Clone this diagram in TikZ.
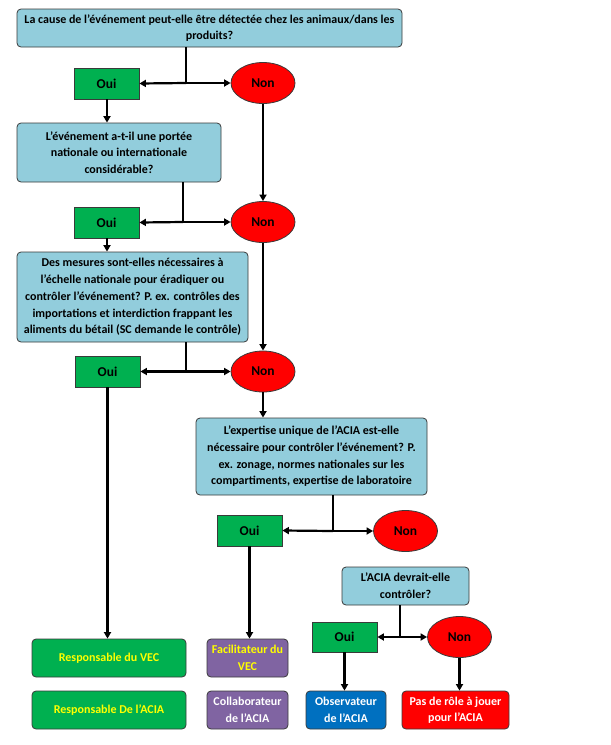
\documentclass[tikz,border=0pt]{standalone}
\usepackage{fontspec}
\setmainfont{Carlito}
\usetikzlibrary{arrows.meta,shapes.geometric}
\definecolor{qblue}{HTML}{92CDDC}
\definecolor{ogreen}{HTML}{00B050}
\definecolor{nred}{HTML}{FF0000}
\definecolor{rpurple}{HTML}{8064A2}
\definecolor{rblue}{HTML}{0070C0}
\definecolor{ryellow}{HTML}{FFFF00}
\definecolor{edgegray}{HTML}{3A3A3A}
\tikzset{
  qfont/.style={font=\bfseries\fontsize{12}{16.7}\selectfont},
  qbox/.style={qfont, draw=edgegray, line width=0.8pt, fill=qblue, rounded corners=4pt, align=center, inner sep=0pt},
  ouibox/.style={font=\bfseries\fontsize{13.5}{16}\selectfont, draw=edgegray, line width=0.8pt, fill=ogreen, minimum width=65pt, minimum height=31pt, inner sep=0pt},
  nonell/.style={font=\bfseries\fontsize{13.5}{16}\selectfont, draw=edgegray, line width=0.8pt, fill=nred, ellipse, minimum width=64pt, minimum height=41pt, inner sep=0pt},
  rbox/.style={font=\bfseries\fontsize{12}{16.5}\selectfont, draw=edgegray, line width=0.8pt, rounded corners=4pt, align=center, inner sep=0pt, minimum height=38pt},
  conn/.style={line width=2.2pt, draw=black},
  arr/.style={conn, -{Triangle[length=6.5pt,width=7pt]}}
}
\begin{document}
\begin{tikzpicture}[x=1pt,y=-1pt]
\useasboundingbox (0,0) rectangle (611,745);
% questions
\node[qbox, minimum width=385pt, minimum height=38pt] (q1) at (209.5,28) {La cause de l’événement peut-elle être détectée chez les animaux/dans les\\produits?};
\node[qbox, minimum width=204pt, minimum height=59pt] (q2) at (119,152.5) {L’événement a-t-il une portée\\nationale ou internationale\\considérable?};
\node[qbox, minimum width=231pt, minimum height=90pt] (q3) at (132.5,297) {Des mesures sont-elles nécessaires à\\l’échelle nationale pour éradiquer ou\\contrôler l’événement? P. ex. contrôles des\\importations et interdiction frappant les\\aliments du bétail (SC demande le contrôle)};
\node[qbox, minimum width=231pt, minimum height=77pt] (q4) at (311.5,456.5) {L’expertise unique de l’ACIA est-elle\\nécessaire pour contrôler l’événement? P.\\ex. zonage, normes nationales sur les\\compartiments, expertise de laboratoire};
\node[qbox, minimum width=127pt, minimum height=38pt] (q5) at (405.5,586) {L’ACIA devrait-elle\\contrôler?};
% oui / non
\node[ouibox] (oui1) at (106.5,83.5) {Oui};
\node[nonell] (non1) at (263,83) {Non};
\node[ouibox] (oui2) at (106.5,222.5) {Oui};
\node[nonell] (non2) at (263,222) {Non};
\node[ouibox] (oui3) at (107.5,371.5) {Oui};
\node[nonell] (non3) at (263,371.5) {Non};
\node[ouibox] (oui4) at (249.5,530.5) {Oui};
\node[nonell] (non4) at (405.5,531) {Non};
\node[ouibox, minimum height=30pt] (oui5) at (344.5,637) {Oui};
\node[nonell] (non5) at (459.5,637) {Non};
% results
\node[rbox, fill=ogreen, text=ryellow, minimum width=154pt] (r1) at (109,658) {Responsable du VEC};
\node[rbox, fill=ogreen, text=ryellow, minimum width=154pt] (r2) at (109,710) {Responsable De l’ACIA};
\node[rbox, fill=rpurple, text=ryellow, minimum width=81pt] (f1) at (247.5,658) {Facilitateur du\\VEC};
\node[rbox, fill=rpurple, text=white, minimum width=81pt] (f2) at (247.5,710) {Collaborateur\\de l’ACIA};
\node[rbox, fill=rblue, text=white, minimum width=80pt] (obs) at (346,710) {Observateur\\de l’ACIA};
\node[rbox, fill=nred, text=white, minimum width=107pt] (pas) at (455.5,710) {Pas de rôle à jouer\\pour l’ACIA};
% junctions
\coordinate (j1) at (186,83);
\coordinate (j2) at (183,222);
\coordinate (j3) at (186,371.5);
\coordinate (j4) at (333,531);
\coordinate (j5) at (400,637);
% connectors
\draw[conn] (q1.south -| j1) -- (j1);
\draw[arr] (j1) -- (oui1.east);
\draw[arr] (j1) -- (non1.west);
\draw[arr] (oui1.south -| 107,0) -- (q2.north -| 107,0);
\draw[arr] (non1) -- (non2);
\draw[conn] (q2.south -| j2) -- (j2);
\draw[arr] (j2) -- (oui2.east);
\draw[arr] (j2) -- (non2.west);
\draw[arr] (oui2.south -| 107,0) -- (q3.north -| 107,0);
\draw[arr] (non2) -- (non3);
\draw[conn] (q3.south -| j3) -- (j3);
\draw[arr] (j3) -- (oui3.east);
\draw[arr] (j3) -- (non3.west);
\draw[arr] (non3.south) -- (q4.north -| non3.south);
\draw[arr] (oui3.south) -- (r1.north -| oui3.south);
\draw[conn] (q4.south -| j4) -- (j4);
\draw[arr] (j4) -- (oui4.east);
\draw[arr] (j4) -- (non4.west);
\draw[arr] (oui4.south) -- (f1.north -| oui4.south);
\draw[conn] (q5.south -| j5) -- (j5);
\draw[arr] (j5) -- (oui5.east);
\draw[arr] (j5) -- (non5.west);
\draw[arr] (oui5.south) -- (obs.north -| oui5.south);
\draw[arr] (non5.south) -- (pas.north -| non5.south);
\end{tikzpicture}
\end{document}
